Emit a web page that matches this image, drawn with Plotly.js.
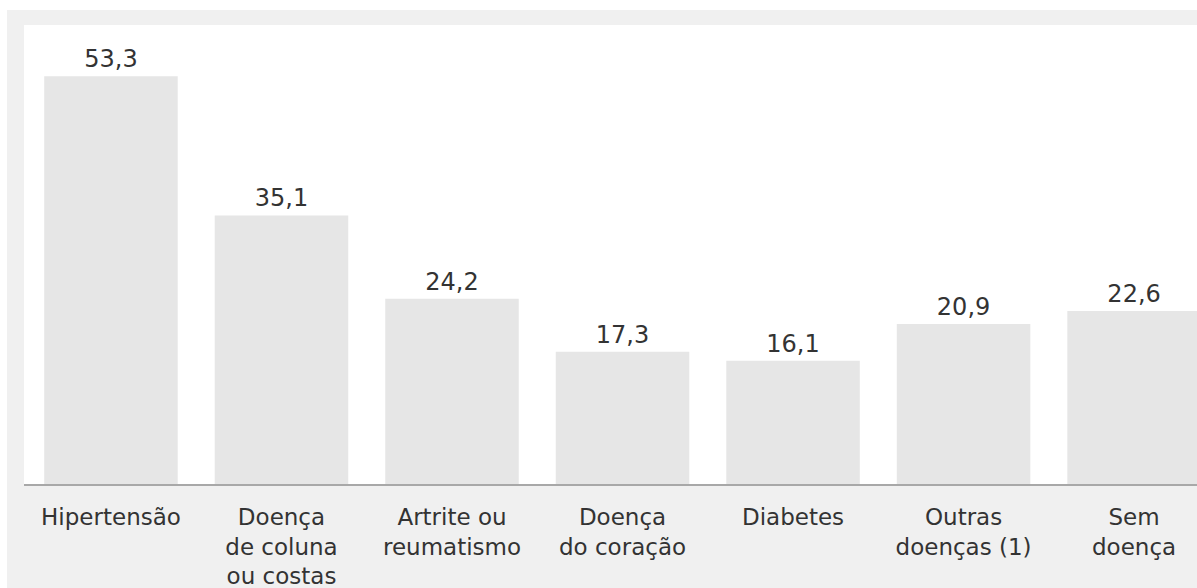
<!DOCTYPE html>
<html>
<head>
<meta charset="utf-8">
<script src="https://cdn.plot.ly/plotly-3.0.1.min.js"></script>
<style>html,body{margin:0;padding:0;background:#fff;}#chart{width:1197px;height:588px;}</style>
</head>
<body>
<div id="chart"></div>
<script>
const categories = ["Hipertensão", "Doença<br>de coluna<br>ou costas", "Artrite ou<br>reumatismo", "Doença<br>do coração", "Diabetes", "Outras<br>doenças (1)", "Sem<br>doença"];
const values = [53.3, 35.1, 24.2, 17.3, 16.1, 20.9, 22.6];

const trace = {
  type: 'bar',
  x: categories,
  y: values,
  marker: {color: '#e6e6e6', line: {width: 0}},
  texttemplate: '%{y:.1f}',
  textposition: 'outside',
  cliponaxis: false,
  textfont: {family: 'DejaVu Sans', size: 24, color: '#333333'},
  hoverinfo: 'none'
};

const layout = {
  width: 1197,
  height: 588,
  margin: {l: 24, r: 0, t: 25, b: 104, pad: 0},
  paper_bgcolor: '#f0f0f0',
  plot_bgcolor: '#ffffff',
  separators: ',.',
  bargap: 0.217,
  showlegend: false,
  font: {family: 'DejaVu Sans', color: '#333333'},
  xaxis: {
    type: 'category',
    range: [-0.510, 6.369],
    showline: true,
    linecolor: '#a8a8a8',
    linewidth: 2,
    ticks: '',
    ticklabelstandoff: 11,
    showgrid: false,
    zeroline: false,
    tickfont: {family: 'DejaVu Sans', size: 23, color: '#333333'},
    fixedrange: true
  },
  yaxis: {
    range: [0, 60],
    showgrid: false,
    zeroline: false,
    showticklabels: false,
    ticks: '',
    fixedrange: true
  },
  shapes: [
    {type: 'rect', xref: 'paper', yref: 'paper', x0: -0.1, x1: 1.1, y0: 1.0327, y1: 1.2, fillcolor: '#ffffff', line: {width: 0}, layer: 'below'},
    {type: 'rect', xref: 'paper', yref: 'paper', x0: -0.1, x1: -0.0145, y0: -0.3, y1: 1.2, fillcolor: '#ffffff', line: {width: 0}, layer: 'below'}
  ]
};

Plotly.newPlot('chart', [trace], layout, {displayModeBar: false, staticPlot: true});
</script>
</body>
</html>
